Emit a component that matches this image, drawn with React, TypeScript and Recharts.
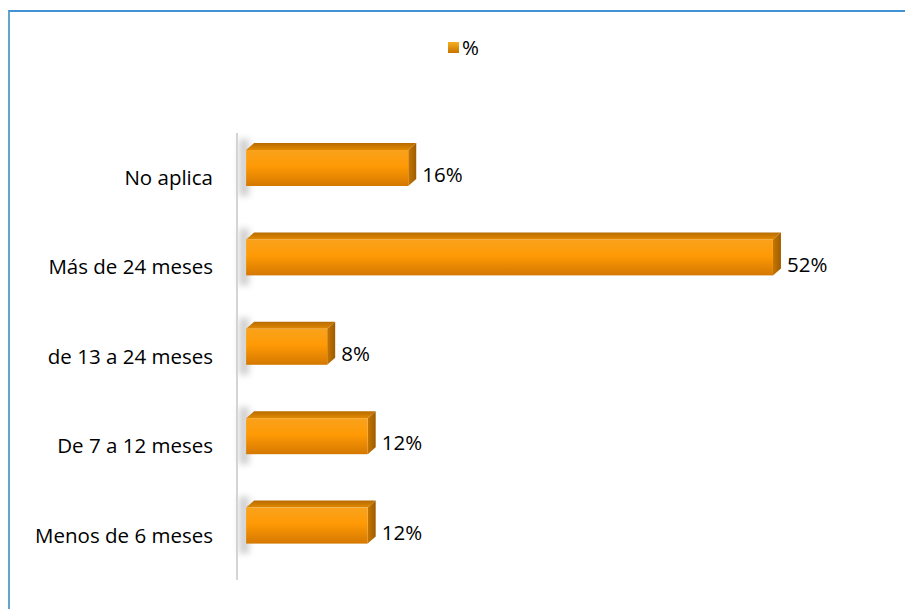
import { BarChart, Bar, XAxis, YAxis, Legend, LabelList } from "recharts";

const categories = ["No aplica", "Más de 24 meses", "de 13 a 24 meses", "De 7 a 12 meses", "Menos de 6 meses"];
const percents = [16, 52, 8, 12, 12];
const seriesName = "%";

const data = categories.map((c, i) => ({ name: c, pct: percents[i] }));

const FONT = "'Open Sans', 'Liberation Sans', sans-serif";
const FONT_SIZE = 20.5;
const DEPTH_X = 8;
const DEPTH_Y = 7;
const LIFT = 10;

function Bar3D(props: any) {
  const { x, y, width, height } = props;
  const fy = y - LIFT;
  const h = height;
  const right = x + width;
  return (
    <g>
      <rect x={x - 7} y={fy - DEPTH_Y - 4} width={10} height={h + DEPTH_Y + 14} fill="#8a8a8a" opacity={0.4} filter="url(#shadowBlur)" />
      <polygon
        points={`${x},${fy} ${x + DEPTH_X},${fy - DEPTH_Y} ${right + DEPTH_X},${fy - DEPTH_Y} ${right},${fy}`}
        fill="url(#topFace)"
      />
      <polygon
        points={`${right},${fy} ${right + DEPTH_X},${fy - DEPTH_Y} ${right + DEPTH_X},${fy + h - DEPTH_Y} ${right},${fy + h}`}
        fill="url(#sideFace)"
      />
      <rect x={x} y={fy} width={width} height={h} fill="url(#frontFace)" />
    </g>
  );
}

function ValueLabel(props: any) {
  const { x, y, width, height, value } = props;
  return (
    <text x={x + width + 14} y={y + height / 2 - 3} dy="0.35em" fontSize={FONT_SIZE} fontFamily={FONT} fill="#000">
      {value}%
    </text>
  );
}

function LegendBox() {
  return (
    <div style={{ display: "flex", justifyContent: "center", alignItems: "center", height: 22, paddingLeft: 22, fontFamily: FONT, fontSize: FONT_SIZE }}>
      <span style={{ display: "inline-block", width: 11, height: 11, marginRight: 3, background: "linear-gradient(#f5b020, #c97300)" }} />
      <span>{seriesName}</span>
    </div>
  );
}

export default function App() {
  return (
    <div style={{ position: "absolute", left: 0, top: 0, width: 905, height: 609, background: "#fff", overflow: "hidden" }}>
      <div style={{ position: "absolute", left: 8, top: 10, width: 900, height: 605, borderTop: "2px solid #4291d2", borderLeft: "2px solid #66a3cc" }} />
      <div style={{ position: "absolute", left: 0, top: 0 }}>
        <BarChart
          width={905}
          height={609}
          data={data}
          layout="vertical"
          margin={{ top: 111, right: 51, bottom: 29, left: 0 }}
          barSize={36}
        >
          <defs>
            <linearGradient id="frontFace" x1="0" y1="0" x2="0" y2="1">
              <stop offset="0" stopColor="#f9a21c" />
              <stop offset="0.45" stopColor="#ff9a05" />
              <stop offset="1" stopColor="#d47800" />
            </linearGradient>
            <linearGradient id="topFace" x1="0" y1="0" x2="0" y2="1">
              <stop offset="0" stopColor="#b86c00" />
              <stop offset="1" stopColor="#e08800" />
            </linearGradient>
            <linearGradient id="sideFace" x1="0" y1="0" x2="1" y2="0">
              <stop offset="0" stopColor="#c77600" />
              <stop offset="1" stopColor="#9e5c00" />
            </linearGradient>
            <filter id="shadowBlur" x="-100%" y="-20%" width="300%" height="140%">
              <feGaussianBlur stdDeviation="3" />
            </filter>
          </defs>
          <Legend
            verticalAlign="top"
            align="center"
            content={() => <LegendBox />}
            wrapperStyle={{ top: 36, left: 0, width: 905 }}
          />
          <XAxis type="number" domain={[-0.9, 60]} hide />
          <YAxis
            type="category"
            dataKey="name"
            width={237}
            axisLine={{ stroke: "#d4d4d4", strokeWidth: 2 }}
            tickLine={false}
            tickSize={0}
            tickMargin={24}
            tick={{ fontSize: FONT_SIZE, fontFamily: FONT, fill: "#000" }}
          />
          <Bar dataKey="pct" name={seriesName} shape={<Bar3D />} isAnimationActive={false}>
            <LabelList dataKey="pct" content={<ValueLabel />} />
          </Bar>
        </BarChart>
      </div>
    </div>
  );
}
